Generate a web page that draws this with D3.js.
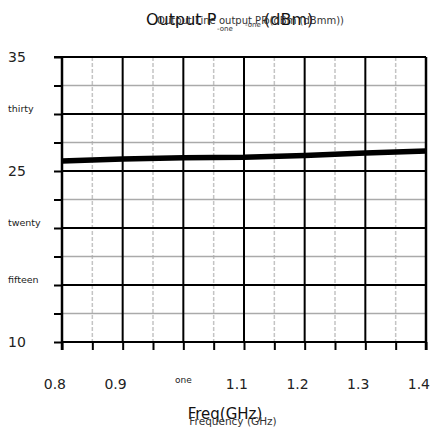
<!DOCTYPE html>
<html><head><meta charset="utf-8">
<script src="https://cdn.jsdelivr.net/npm/d3@7/dist/d3.min.js"></script>
<style>body{margin:0;background:#fff}svg{display:block;font-family:"DejaVu Sans",sans-serif}</style>
</head><body><svg id="c" width="432" height="430"></svg>
<script>
const freq = [0.8, 0.9, 1.0, 1.1, 1.2, 1.3, 1.4];
const power = [25.88, 26.05, 26.17, 26.2, 26.36, 26.58, 26.75];
const xTicks = [0.8, 0.9, 1.0, 1.1, 1.2, 1.3, 1.4];
const xTickLabels = ["0.8", "0.9", "one", "1.1", "1.2", "1.3", "1.4"];
const xMinor = [0.85, 0.95, 1.05, 1.15, 1.25, 1.35];
const yTicks = [10, 15, 20, 25, 30, 35];
const yTickLabels = ["10", "fifteen", "twenty", "25", "thirty", "35"];
const yMinor = [12.5, 17.5, 22.5, 27.5, 32.5];

const svg = d3.select("#c");
const L = 62, R = 426, T = 57, B = 342;
const x = d3.scaleLinear().domain([0.8, 1.4]).range([L, R]);
const y = d3.scaleLinear().domain([10, 35]).range([B, T]);
const isNum = s => /^[\d.]+$/.test(s);

// minor grid
svg.append("g").selectAll("line").data(xMinor).join("line")
  .attr("x1", d => x(d)).attr("x2", d => x(d)).attr("y1", T).attr("y2", B)
  .attr("stroke", "#c4c4c4").attr("stroke-width", 1.5).attr("stroke-dasharray", "4,2");
svg.append("g").selectAll("line").data(yMinor).join("line")
  .attr("x1", L).attr("x2", R).attr("y1", d => y(d)).attr("y2", d => y(d))
  .attr("stroke", "#aaa").attr("stroke-width", 1.5);
// major grid
svg.append("g").selectAll("line").data(xTicks).join("line")
  .attr("x1", d => x(d)).attr("x2", d => x(d)).attr("y1", T).attr("y2", B)
  .attr("stroke", "#000").attr("stroke-width", 2);
svg.append("g").selectAll("line").data(yTicks).join("line")
  .attr("x1", L).attr("x2", R).attr("y1", d => y(d)).attr("y2", d => y(d))
  .attr("stroke", "#000").attr("stroke-width", 2);

// axes
const xa = svg.append("g").attr("transform", `translate(0,${B})`)
  .call(d3.axisBottom(x).tickValues(xTicks.concat(xMinor)).tickSize(8).tickFormat(""));
const ya = svg.append("g").attr("transform", `translate(${L},0)`)
  .call(d3.axisLeft(y).tickValues(yTicks.concat(yMinor)).tickSize(8).tickFormat(""));
[xa, ya].forEach(a => { a.select(".domain").remove(); a.selectAll("line").attr("stroke", "#000").attr("stroke-width", 2); });
svg.append("line").attr("x1", L).attr("x2", L).attr("y1", T).attr("y2", B + 8).attr("stroke", "#000").attr("stroke-width", 2.5);
svg.append("line").attr("x1", L - 8).attr("x2", R).attr("y1", T).attr("y2", T).attr("stroke", "#000").attr("stroke-width", 2);
svg.append("line").attr("x1", R).attr("x2", R).attr("y1", T).attr("y2", B + 8).attr("stroke", "#000").attr("stroke-width", 2.5);

// data line
svg.append("path").datum(freq.map((f, i) => [f, power[i]]))
  .attr("d", d3.line().x(d => x(d[0])).y(d => y(d[1])))
  .attr("fill", "none").attr("stroke", "#000").attr("stroke-width", 5.5);

// tick labels
svg.append("g").selectAll("text").data(xTicks).join("text")
  .attr("x", (d, i) => isNum(xTickLabels[i]) ? x(d) + 4 : x(d))
  .attr("y", (d, i) => isNum(xTickLabels[i]) ? 389 : 383)
  .attr("text-anchor", (d, i) => isNum(xTickLabels[i]) ? "end" : "middle")
  .attr("font-size", (d, i) => isNum(xTickLabels[i]) ? 14 : 9)
  .attr("fill", "#222").text((d, i) => xTickLabels[i]);
svg.append("g").selectAll("text").data(yTicks).join("text")
  .attr("x", 8)
  .attr("font-size", (d, i) => isNum(yTickLabels[i]) ? 14 : 9.5)
  .attr("fill", "#222")
  .attr("y", (d, i) => isNum(yTickLabels[i]) ? y(d) + 5 : y(d) - 2)
  .text((d, i) => yTickLabels[i]);

// titles (overlapping, as in reference)
svg.append("text").attr("x", 146).attr("y", 25).attr("font-size", 16).attr("fill", "#111").text("Output P");
svg.append("text").attr("x", 264).attr("y", 25).attr("font-size", 16).attr("fill", "#111").text("(dBm)");
svg.append("text").attr("x", 157).attr("y", 24).attr("font-size", 10).attr("fill", "#333").text("Output Line output PP");
svg.append("text").attr("x", 344).attr("y", 24).attr("font-size", 10).attr("fill", "#333").attr("text-anchor", "end").text("o(dBm (dBmm))");
svg.append("text").attr("x", 217).attr("y", 31).attr("font-size", 7).attr("fill", "#333").text("-one");
svg.append("text").attr("x", 245).attr("y", 27).attr("font-size", 7).attr("fill", "#333").text("-one");

svg.append("text").attr("x", 225).attr("y", 419).attr("text-anchor", "middle").attr("font-size", 15).attr("fill", "#111").text("Freq(GHz)");
svg.append("text").attr("x", 233).attr("y", 425).attr("text-anchor", "middle").attr("font-size", 10.5).attr("fill", "#333").text("Frequency (GHz)");
</script></body></html>
